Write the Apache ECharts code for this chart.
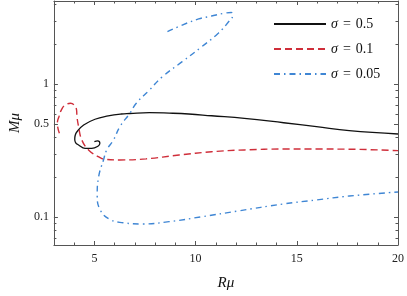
<!DOCTYPE html>
<html><head><meta charset="utf-8">
<script src="https://cdn.jsdelivr.net/npm/echarts@6/dist/echarts.min.js"></script>
<style>html,body{margin:0;padding:0;background:#fff}#c{width:407px;height:296px}</style>
</head><body><div id="c"></div>
<script>
// sigma = 0.5 (black, solid)
const s05R = [5.00, 5.16, 5.27, 5.19, 4.87, 4.54, 4.22, 4.07, 4.03, 4.05, 4.14, 4.47, 5.03, 5.68, 6.33, 6.75, 7.72, 8.69, 9.66, 10.79, 12.41, 14.35, 15.97, 17.59, 20.0];
const s05M = [0.370, 0.375, 0.360, 0.344, 0.330, 0.330, 0.350, 0.365, 0.386, 0.412, 0.440, 0.494, 0.546, 0.578, 0.598, 0.603, 0.612, 0.607, 0.598, 0.580, 0.555, 0.514, 0.480, 0.448, 0.423];
// sigma = 0.1 (red, dashed)
const s01R = [3.27, 3.17, 3.25, 3.41, 3.61, 3.82, 4.00, 4.12, 4.14, 4.22, 4.38, 4.71, 5.19, 5.52, 6.26, 7.55, 9.18, 10.79, 12.41, 14.35, 15.97, 17.59, 20.0];
const s01M = [0.428, 0.509, 0.571, 0.660, 0.705, 0.720, 0.699, 0.641, 0.571, 0.480, 0.381, 0.321, 0.286, 0.273, 0.270, 0.275, 0.294, 0.311, 0.321, 0.326, 0.326, 0.325, 0.317];
// sigma = 0.05 (blue, dash-dot)
const s005R = [8.61, 9.34, 10.15, 10.79, 11.37, 11.76, 11.84, 11.62, 11.12, 10.31, 9.34, 8.36, 7.72, 7.07, 6.75, 6.26, 5.94, 5.61, 5.45, 5.21, 5.14, 5.29, 5.78, 6.42, 7.39, 8.69, 10.31, 12.09, 14.35, 15.97, 17.59, 20.0];
const s005M = [2.49, 2.79, 3.10, 3.26, 3.41, 3.47, 3.32, 2.94, 2.42, 1.92, 1.48, 1.14, 0.906, 0.720, 0.605, 0.480, 0.381, 0.321, 0.270, 0.202, 0.147, 0.1135, 0.0962, 0.091, 0.0891, 0.0927, 0.101, 0.1115, 0.126, 0.135, 0.1445, 0.155];

const seriesNames = ['σ = 0.5', 'σ = 0.1', 'σ = 0.05'];
const xMajor = [5, 10, 15, 20];
const xMinor = [4, 6, 7, 8, 9, 11, 12, 13, 14, 16, 17, 18, 19];
const yMajor = [0.1, 0.5, 1];
const yMinor = [0.07, 0.08, 0.09, 0.2, 0.3, 0.4, 0.6, 0.7, 0.8, 0.9, 2, 3, 4];

const zip = (a, b) => a.map((v, i) => [v, b[i]]);
const SERIF = '"Liberation Serif", "DejaVu Serif", serif';
const FRAME = '#555';
const XMIN = 3, XMAX = 20, YMIN = 0.0619, YMAX = 4.23;

function xAx(pos, ticks, len, labels, showLine) {
  return {
    type: 'value', position: pos, min: XMIN, max: XMAX, gridIndex: 0,
    axisLine: { show: showLine, lineStyle: { color: FRAME, width: 1 } },
    axisTick: { show: true, inside: true, length: len, customValues: ticks, lineStyle: { color: FRAME, width: 1 } },
    axisLabel: labels ? { show: true, customValues: xMajor, margin: 8, color: '#222', fontFamily: SERIF, fontSize: 12, formatter: v => String(Math.round(v)) } : { show: false },
    splitLine: { show: false }
  };
}
function yAx(pos, ticks, len, labels, showLine) {
  return {
    type: 'log', logBase: 10, position: pos, min: YMIN, max: YMAX, gridIndex: 0,
    axisLine: { show: showLine, lineStyle: { color: FRAME, width: 1 } },
    axisTick: { show: true, inside: true, length: len, customValues: ticks, lineStyle: { color: FRAME, width: 1 } },
    axisLabel: labels ? { show: true, customValues: yMajor, margin: 5, color: '#222', fontFamily: SERIF, fontSize: 12, formatter: v => String(parseFloat((+v).toPrecision(3))) } : { show: false },
    splitLine: { show: false }
  };
}

const xAxes = [xAx('bottom', xMajor, 4, true, true), xAx('bottom', xMinor, 2.5, false, false), xAx('top', xMajor, 4, false, true), xAx('top', xMinor, 2.5, false, false)];
xAxes[0].name = 'Rμ';
xAxes[0].nameLocation = 'middle';
xAxes[0].nameGap = 31;
xAxes[0].nameTextStyle = { fontFamily: SERIF, fontStyle: 'italic', fontSize: 15, color: '#111' };
const yAxes = [yAx('left', yMajor, 4, true, true), yAx('left', yMinor, 2.5, false, false), yAx('right', yMajor, 4, false, true), yAx('right', yMinor, 2.5, false, false)];
yAxes[0].name = 'Mμ';
yAxes[0].nameLocation = 'middle';
yAxes[0].nameGap = 30;
yAxes[0].nameTextStyle = { fontFamily: SERIF, fontStyle: 'italic', fontSize: 15, color: '#111' };

const chart = echarts.init(document.getElementById('c'), null, { renderer: 'canvas' });
chart.setOption({
  animation: false,
  backgroundColor: '#fff',
  grid: { left: 49, right: 7, top: 1, bottom: 51, containLabel: false },
  xAxis: xAxes,
  yAxis: yAxes,
  legend: {
    orient: 'vertical', left: 273, top: 17, padding: 0, itemWidth: 52, itemHeight: 14, itemGap: 11,
    data: seriesNames,
    itemStyle: { opacity: 0 },
    formatter: n => '{i|σ}{e|=}{n|' + n.split('= ')[1] + '}',
    textStyle: {
      color: '#111', fontFamily: SERIF, fontSize: 14,
      rich: {
        i: { fontFamily: SERIF, fontStyle: 'italic', fontSize: 14, color: '#111' },
        e: { fontFamily: SERIF, fontSize: 14, padding: [0, 5], color: '#111' },
        n: { fontFamily: SERIF, fontSize: 14, color: '#111' }
      }
    }
  },
  series: [
    { name: seriesNames[0], type: 'line', xAxisIndex: 0, yAxisIndex: 0, data: zip(s05R, s05M), smooth: 0.45, symbol: 'none', color: '#111',
      lineStyle: { color: '#111', width: 1.3, type: 'solid' } },
    { name: seriesNames[1], type: 'line', xAxisIndex: 0, yAxisIndex: 0, data: zip(s01R, s01M), smooth: 0.45, symbol: 'none', color: '#cf2e3a',
      lineStyle: { color: '#cf2e3a', width: 1.4, type: [7, 4] } },
    { name: seriesNames[2], type: 'line', xAxisIndex: 0, yAxisIndex: 0, data: zip(s005R, s005M), smooth: 0.45, symbol: 'none', color: '#3f86d4',
      lineStyle: { color: '#3f86d4', width: 1.4, type: [6, 4, 1.5, 4] } }
  ]
});
</script>
</body></html>
